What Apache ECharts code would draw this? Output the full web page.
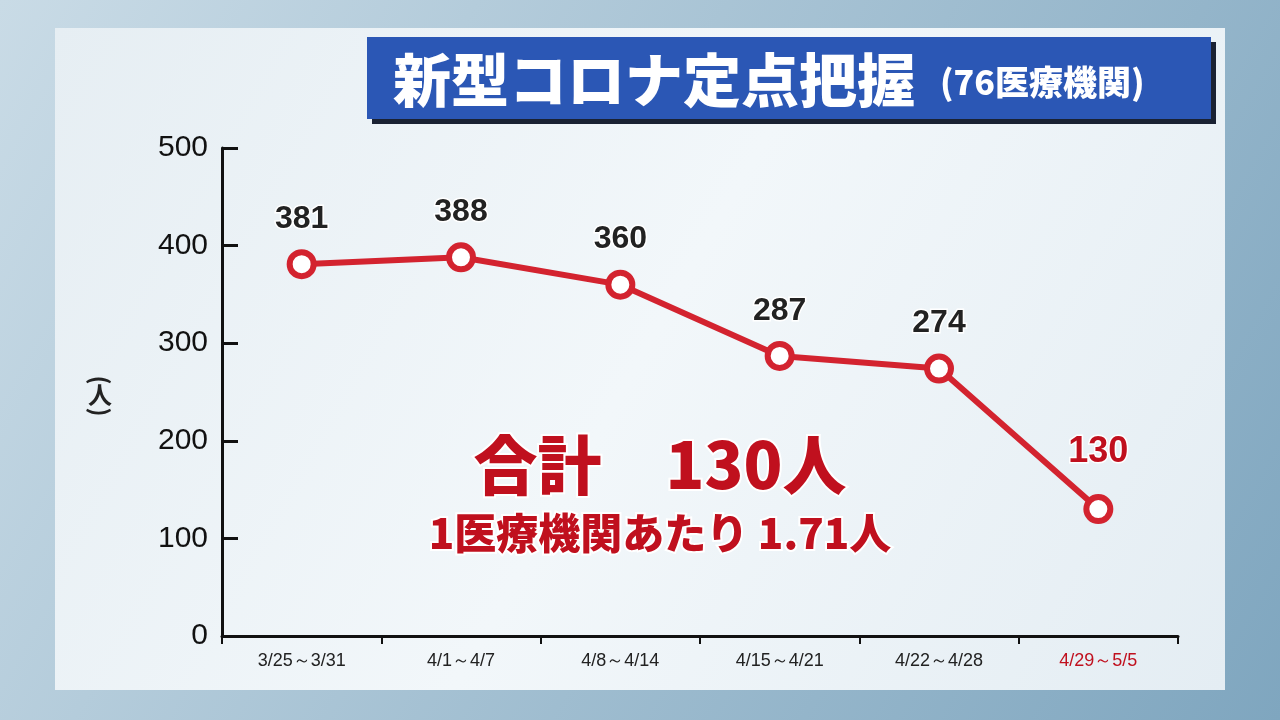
<!DOCTYPE html>
<html><head><meta charset="utf-8">
<script src="https://cdn.jsdelivr.net/npm/echarts@6/dist/echarts.min.js"></script>
<style>html,body{margin:0;padding:0;}#c{width:1280px;height:720px;}</style>
</head><body><div id="c"></div>
<script>
const categories = ['3/25～3/31','4/1～4/7','4/8～4/14','4/15～4/21','4/22～4/28','4/29～5/5'];
const values = [381, 388, 360, 287, 274, 130];
const yTicks = [0,100,200,300,400,500];
const F = '"Noto Sans CJK JP","Noto Sans",sans-serif';
const L = '"Liberation Sans",Arial,sans-serif';
const chart = echarts.init(document.getElementById('c'));
const sh = {shadowColor:'#000', shadowBlur:3, shadowOffsetX:2, shadowOffsetY:2};
chart.setOption({
  backgroundColor: new echarts.graphic.LinearGradient(0,0,1,1,[{offset:0,color:'#c9dbe6'},{offset:1,color:'#7fa6bf'}]),
  graphic: [
    {type:'rect', z:-10, shape:{x:55,y:28,width:1170,height:662}, style:{fill:new echarts.graphic.LinearGradient(0,0,1,1,[{offset:0,color:'#e6eef3'},{offset:0.5,color:'#f2f7fa'},{offset:1,color:'#e4edf3'}])}},
    {type:'rect', shape:{x:372,y:42,width:844,height:82}, style:{fill:'#1a2233'}},
    {type:'rect', shape:{x:367,y:37,width:844,height:82}, style:{fill:'#2b57b5'}},
    {type:'text', x:393, y:80, style:Object.assign({text:'新型コロナ定点把握', font:'900 58px '+F, fill:'#fff', verticalAlign:'middle'}, sh)},
    {type:'text', x:940, y:82, style:Object.assign({text:'(76医療機関)', font:'900 34px '+F, fill:'#fff', verticalAlign:'middle'}, sh)},
    {type:'text', x:100, y:380, rotation:-Math.PI/2, style:{text:'(', font:'bold 24px '+F, fill:'#222', align:'center', verticalAlign:'middle'}},
    {type:'text', x:100, y:395, style:{text:'人', font:'bold 24px '+F, fill:'#222', align:'center', verticalAlign:'middle'}},
    {type:'text', x:100, y:412, rotation:-Math.PI/2, style:{text:')', font:'bold 24px '+F, fill:'#222', align:'center', verticalAlign:'middle'}},
    {type:'text', x:660, y:465, style:{text:'合計　130人', font:'900 64px '+F, fill:'#c0101e', align:'center', verticalAlign:'middle', stroke:'#fff', lineWidth:4}},
    {type:'text', x:660, y:533, style:{text:'1医療機関あたり 1.71人', font:'900 42px '+F, fill:'#c0101e', align:'center', verticalAlign:'middle', stroke:'#fff', lineWidth:4}}
  ],
  grid: {left:222, right:102, top:148, bottom:84},
  xAxis: {type:'category', data:categories, boundaryGap:true,
    axisLine:{lineStyle:{color:'#111', width:3}},
    axisTick:{show:true, length:8, lineStyle:{color:'#111', width:2}},
    axisLabel:{margin:16, fontSize:18, fontFamily:L, color:(v,i)=> i===5?'#c0101e':'#222'}},
  yAxis: {type:'value', min:0, max:500, interval:100,
    axisLine:{show:true, lineStyle:{color:'#111', width:3}},
    axisTick:{show:true, inside:true, length:16, lineStyle:{color:'#111', width:3}},
    splitLine:{show:false},
    axisLabel:{margin:14, fontSize:30, fontFamily:L, color:'#111'}},
  series: [{type:'line', data:values, symbol:'circle', symbolSize:24,
    lineStyle:{color:'#d3232f', width:6},
    itemStyle:{color:'#fff', borderColor:'#d3232f', borderWidth:6},
    label:{show:true, position:'top', distance:14, fontSize:32, fontWeight:'bold', fontFamily:L,
      color:'#222', textBorderColor:'#fff', textBorderWidth:3,
      formatter:p=>p.dataIndex===5?'{r|'+p.value+'}':p.value,
      rich:{r:{color:'#c0101e', fontSize:36, fontWeight:'bold', fontFamily:L, textBorderColor:'#fff', textBorderWidth:3, padding:[0,0,10,0]}}}
  }]
});
</script></body></html>
